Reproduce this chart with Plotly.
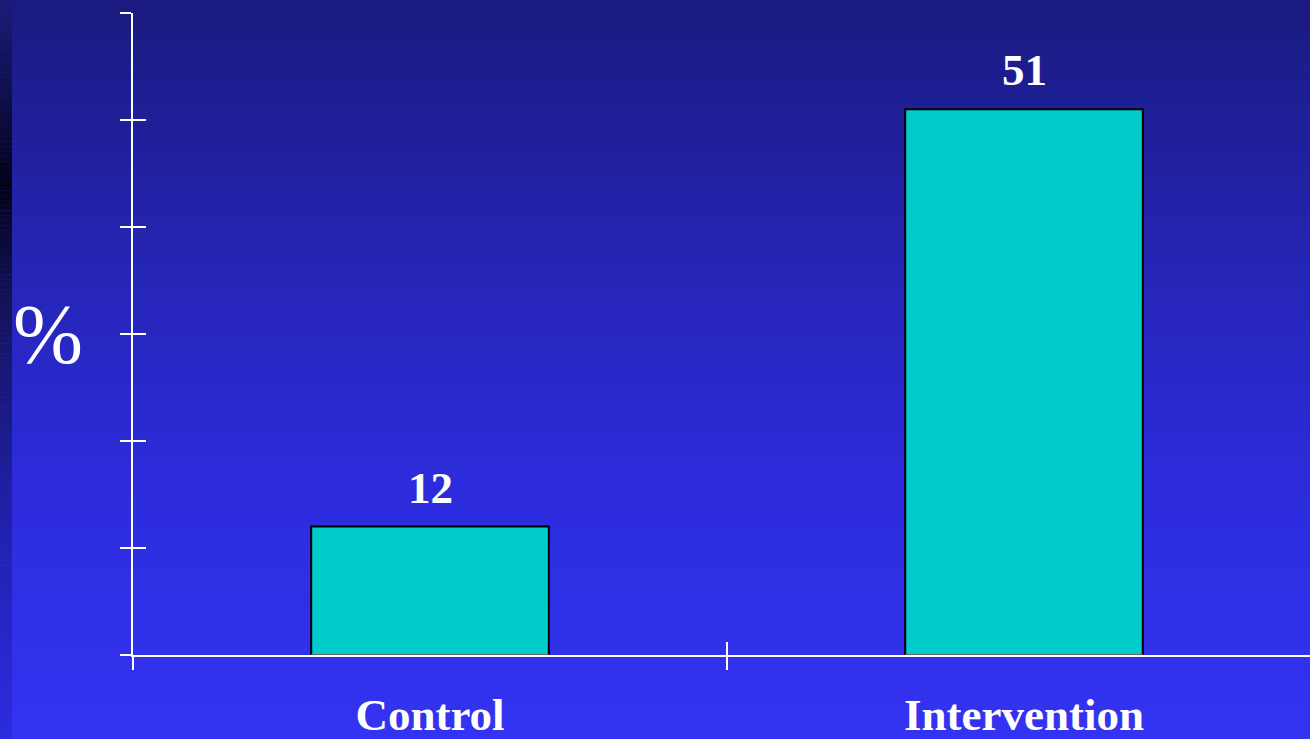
import plotly.graph_objects as go

# Data
categories = ["Control", "Intervention"]
values = [12, 51]
y_ticks = [0, 10, 20, 30, 40, 50, 60]

W, H = 1310, 739
M_L, M_R, M_T, M_B = 133, 0, 13, 84
PLOT_W = W - M_L - M_R
PLOT_H = H - M_T - M_B
FONT = "Liberation Serif, Times New Roman, serif"
BAR_FILL = "#00CCCC"


def lerp_color(stops, t):
    for (t0, c0), (t1, c1) in zip(stops, stops[1:]):
        if t0 <= t <= t1:
            f = (t - t0) / (t1 - t0) if t1 > t0 else 0
            c = [round(a + (b - a) * f) for a, b in zip(c0, c1)]
            return "rgb({},{},{})".format(*c)
    c = stops[-1][1]
    return "rgb({},{},{})".format(*c)


def px_to_paper_x(px):
    return (px - M_L) / PLOT_W


def px_to_paper_y(py):
    # py measured from the top of the page
    return (H - M_B - py) / PLOT_H


# vertical gradient for the slide background (t = 0 at top)
bg_stops = [(0.0, (26, 26, 128)), (0.33, (36, 36, 176)),
            (0.65, (44, 44, 220)), (1.0, (51, 51, 242))]
# darker strip along the left edge
edge_stops = [(0.0, (28, 28, 120)), (0.12, (16, 16, 80)),
              (0.25, (2, 2, 24)), (0.42, (20, 20, 90)),
              (0.7, (32, 32, 170)), (1.0, (44, 44, 225))]

shapes = []
n = 150
for i in range(n):
    top = H * i / n
    bot = H * (i + 1) / n
    t = (i + 0.5) / n
    y1 = px_to_paper_y(top) + 0.002
    y0 = px_to_paper_y(bot) - 0.002
    shapes.append(dict(type="rect", xref="paper", yref="paper",
                       x0=px_to_paper_x(-5), x1=px_to_paper_x(W + 5), y0=y0, y1=y1,
                       line=dict(width=0), fillcolor=lerp_color(bg_stops, t),
                       layer="below"))
    shapes.append(dict(type="rect", xref="paper", yref="paper",
                       x0=px_to_paper_x(-5), x1=px_to_paper_x(12), y0=y0, y1=y1,
                       line=dict(width=0), fillcolor=lerp_color(edge_stops, t),
                       layer="below"))

fig = go.Figure()
fig.add_trace(go.Bar(
    x=categories, y=values, width=0.4,
    marker=dict(color=BAR_FILL, line=dict(color="black", width=2)),
    hoverinfo="skip",
))
# second, invisible trace on an overlaid axis to get inward ticks
fig.add_trace(go.Bar(x=categories, y=[0, 0], xaxis="x2", yaxis="y2",
                     marker=dict(color="rgba(0,0,0,0)"), hoverinfo="skip",
                     showlegend=False))

# value labels above bars
annotations = []
for c, v in zip(categories, values):
    annotations.append(dict(x=c, y=v, xref="x", yref="y", text="<b>%d</b>" % v,
                            showarrow=False, yanchor="bottom", yshift=12,
                            font=dict(family=FONT, size=45, color="white")))
# y-axis label
annotations.append(dict(x=px_to_paper_x(48), y=px_to_paper_y(335), xref="paper", yref="paper",
                        text="%", showarrow=False, xanchor="center", yanchor="middle",
                        font=dict(family=FONT, size=84, color="white")))

x_range = [-0.5, 1.5 - 11 / 594]

fig.update_layout(
    width=W, height=H,
    margin=dict(l=M_L, r=M_R, t=M_T, b=M_B, autoexpand=False),
    paper_bgcolor="#1a1a80",
    plot_bgcolor="rgba(0,0,0,0)",
    showlegend=False,
    shapes=shapes,
    annotations=annotations,
    xaxis=dict(
        type="category", range=x_range, tickson="boundaries",
        ticks="outside", ticklen=13, tickwidth=2, tickcolor="white",
        showline=True, linecolor="white", linewidth=2,
        showgrid=False, zeroline=False, automargin=False,
        tickfont=dict(family=FONT, size=45, color="white"),
        tickprefix="<b>", ticksuffix="</b>",
        ticklabelstandoff=19,
    ),
    xaxis2=dict(
        type="category", range=x_range, tickson="boundaries", overlaying="x",
        matches="x", side="bottom", automargin=False,
        ticks="inside", ticklen=13, tickwidth=2, tickcolor="white",
        showticklabels=False, showline=False, showgrid=False, zeroline=False,
    ),
    yaxis=dict(
        range=[0, 60], tickvals=y_ticks, showticklabels=False,
        ticks="outside", ticklen=11, tickwidth=2, tickcolor="white",
        showline=True, linecolor="white", linewidth=2, automargin=False,
        showgrid=False, zeroline=False,
    ),
    yaxis2=dict(
        range=[0, 60], tickvals=y_ticks, overlaying="y", matches="y",
        showticklabels=False, ticks="inside", ticklen=13, tickwidth=2, automargin=False,
        tickcolor="white", showline=False, showgrid=False, zeroline=False,
    ),
    bargap=0.6,
)

fig.write_html("out.html")
